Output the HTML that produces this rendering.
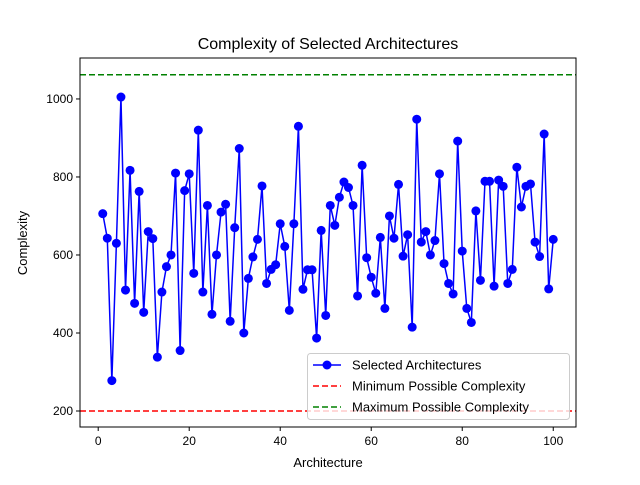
<!DOCTYPE html>
<html><head><meta charset="utf-8"><style>
body{margin:0;background:#fff;font-family:"Liberation Sans","DejaVu Sans",sans-serif;}
</style></head><body>
<svg id="chart" width="640" height="480" xmlns="http://www.w3.org/2000/svg"></svg>
<script>
const values=[706,643,278,630,1005,510,817,476,763,453,660,642,338,505,570,600,810,355,765,808,553,920,505,727,448,600,710,730,430,670,873,400,540,595,640,777,527,563,575,680,622,458,680,930,512,562,562,387,663,445,727,676,748,787,773,727,495,830,593,543,502,645,463,700,643,781,597,652,415,948,633,660,600,637,808,578,527,500,892,610,463,427,713,535,789,789,520,792,776,527,563,825,723,776,782,633,596,910,513,640];
const xTicks=[0,20,40,60,80,100];
const yTicks=[200,400,600,800,1000];
const minC=200, maxC=1062;
const L=80,R=576,T=58,B=427;
const xMin=-4.0,xMax=105.0,yMin=159,yMax=1105;
const sx=v=>L+(v-xMin)/(xMax-xMin)*(R-L);
const sy=v=>B-(v-yMin)/(yMax-yMin)*(B-T);
const svg=document.getElementById('chart');
const NS='http://www.w3.org/2000/svg';
function mk(t,a,txt){const e=document.createElementNS(NS,t);for(const k in a)e.setAttribute(k,a[k]);if(txt!==undefined)e.textContent=txt;svg.appendChild(e);return e;}
let e;
e=mk('text',{x:328,y:49,'text-anchor':'middle','font-size':16},'Complexity of Selected Architectures');


xTicks.forEach(t=>{const x=sx(t);mk('line',{x1:x,x2:x,y1:B,y2:B+4,stroke:'#000'});
e=mk('text',{x:x,y:B+18,'text-anchor':'middle','font-size':12},t);

});
yTicks.forEach(t=>{const y=sy(t);mk('line',{x1:L-4,x2:L,y1:y,y2:y,stroke:'#000'});
e=mk('text',{x:L-7,y:y+4,'text-anchor':'end','font-size':12},t);

});
e=mk('text',{x:328,y:467,'text-anchor':'middle','font-size':13},'Architecture');


e=mk('text',{x:27,y:243,'text-anchor':'middle','font-size':13,transform:'rotate(-90 27 243)'},'Complexity');


e=mk('line',{x1:L,x2:R,y1:sy(minC),y2:sy(minC),stroke:'#ff0000','stroke-width':1.5,'stroke-dasharray':'6,3'});


e=mk('line',{x1:L,x2:R,y1:sy(maxC),y2:sy(maxC),stroke:'#008000','stroke-width':1.5,'stroke-dasharray':'6,3'});


e=mk('polyline',{points:values.map((v,i)=>sx(i+1)+','+sy(v)).join(' '),fill:'none',stroke:'#0000ff','stroke-width':1.5});


values.forEach((v,i)=>{e=mk('circle',{cx:sx(i+1),cy:sy(v),r:4.5,fill:'#0000ff'});

});
e=mk('rect',{x:L,y:T,width:R-L,height:B-T,fill:'none',stroke:'#000','stroke-width':1});


e=mk('rect',{x:307.5,y:353.5,width:262,height:66,rx:3,fill:'#fff','fill-opacity':0.8,stroke:'#ccc'});


const leg=[['Selected Architectures','#0000ff',false],['Minimum Possible Complexity','#ff0000',true],['Maximum Possible Complexity','#008000',true]];
leg.forEach((l,i)=>{const y=365+i*21;
mk('line',{x1:313,x2:341,y1:y,y2:y,stroke:l[1],'stroke-width':1.5,'stroke-dasharray':l[2]?'6,3':'none'});
if(!l[2])mk('circle',{cx:327,cy:y,r:4.5,fill:l[1]});
e=mk('text',{x:352,y:y+4.5,'font-size':13},l[0]);

});
</script>
</body></html>
